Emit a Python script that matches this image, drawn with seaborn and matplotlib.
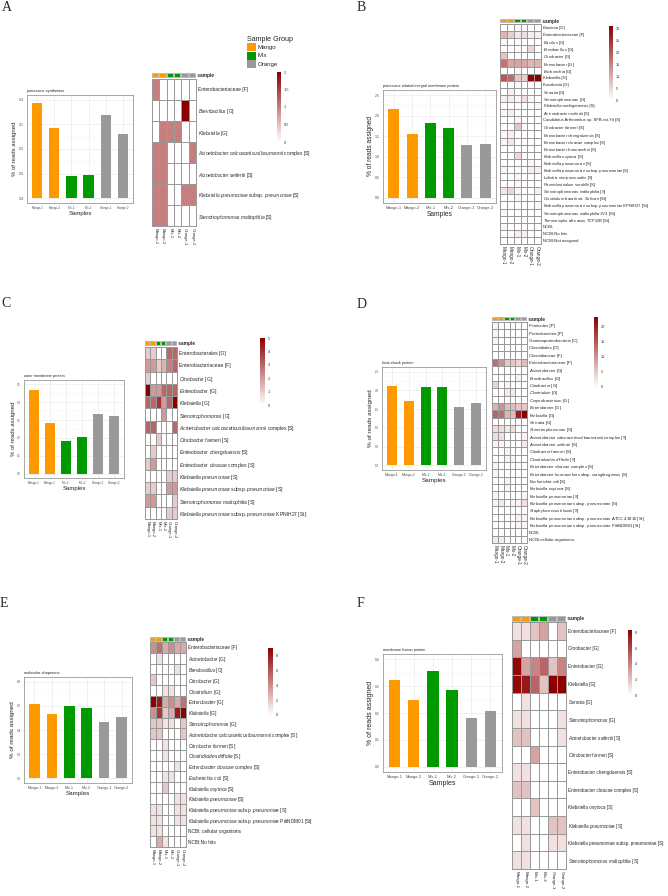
import matplotlib
matplotlib.use('Agg')
from matplotlib import pyplot as plt
from matplotlib.colors import LinearSegmentedColormap, ListedColormap
from matplotlib.patches import Rectangle
import numpy as np
import pandas as pd
import seaborn as sns

sns.set_style('white')
plt.rcParams['font.family'] = ['Liberation Sans', 'DejaVu Sans']
plt.rcParams['mathtext.fontset'] = 'custom'
plt.rcParams['mathtext.rm'] = 'Liberation Sans'
plt.rcParams['mathtext.it'] = 'Liberation Sans:italic'

##sample info shared by all panels
samples = ['Mango-1', 'Mango-2', 'Mix-1', 'Mix-2', 'Orange-1', 'Orange-2']
groups = ['Mango', 'Mango', 'Mix', 'Mix', 'Orange', 'Orange']
group_names = ['Mango', 'Mix', 'Orange']
group_colors = {'Mango': '#FF9900', 'Mix': '#009900', 'Orange': '#999999'}

##Panel A
a_title = 'putrescine synthetase'
a_bars = [0.193, 0.142, 0.045, 0.048, 0.170, 0.131]
a_rows = ['Enterobacteriaceae [F]', '*Brevibacillus* [G]', '*Klebsiella* [G]',
          '*Acinetobacter calcoaceticus/baumannii* complex [S]',
          '*Acinetobacter seifertii* [S]',
          '*Klebsiella pneumoniae* subsp. *pneumoniae* [S]',
          '*Stenotrophomonas maltophilia* [S]']
a_heat = [[1, 0, 0, 0, 0, 0],
          [0, 0, 0, 0, 2, 0],
          [0, 1, 1, 1, 0, 0],
          [1, 1, 0, 0, 0, 1],
          [1, 1, 0, 0, 0, 0],
          [1, 1, 0, 0, 1, 1],
          [1, 1, 0, 0, 0, 0]]

##Panel B
b_title = 'putrescine related integral membrane protein'
b_bars = [2.17, 1.56, 1.81, 1.69, 1.29, 1.31]
b_rows = ['Bacteria [D]', 'Enterobacteriaceae [F]', '*Bacillus* [G]', '*Brevibacillus* [G]',
          '*Citrobacter* [G]', '*Enterobacter* [G]', '*Escherichia* [G]', 'Klebsiella [G]',
          'Kosakonia [G]', '*Serratia* [G]', '*Stenotrophomonas* [G]',
          ' Klebsiella michiganensis [S]', '*Acinetobacter seifertii* [S]',
          'Candidatus Arthromitus sp. SFB-rat-Yit [S]', '*Citrobacter farmeri* [S]',
          '*Enterobacter chengduensis* [S]', '*Enterobacter cloacae* complex [S]',
          '*Enterobacter hormaechei* [S]', '*Klebsiella oxytoca* [S]',
          '*Klebsiella pneumoniae* [S]', '*Klebsiella pneumoniae* subsp. *pneumoniae* [S]',
          '*Leliottia nimipressuralis* [S]', '*Paeniclostridium sordellii* [S]',
          '*Stenotrophomonas maltophilia* [S]', '*Clostridium baratii* str. *Sullivan* [St]',
          '*Klebsiella pneumoniae* subsp. *pneumoniae* KPNIH27 [St]',
          '*Stenotrophomonas maltophilia* JV3 [St]', '*Thermosipho africanus* TCF52B [St]',
          'NCBI;', 'NCBI;No hits', 'NCBI;Not assigned']
b_heat = [[0, 0, 1, 0, 0, 0],
          [9, 6, 3, 4, 2, 2],
          [1, 0, 0, 0, 0, 0],
          [0, 0, 0, 0, 5, 0],
          [7, 0, 0, 0, 0, 0],
          [17, 11, 11, 11, 9, 9],
          [0, 0, 1, 0, 0, 0],
          [20, 18, 7, 6, 30, 31],
          [0, 0, 1, 0, 0, 0],
          [0, 2, 0, 0, 0, 0],
          [2, 2, 1, 4, 1, 0],
          [0, 0, 0, 0, 0, 1],
          [1, 2, 0, 0, 0, 0],
          [0, 0, 1, 0, 0, 0],
          [0, 0, 7, 0, 0, 0],
          [1, 2, 0, 0, 0, 0],
          [1, 3, 0, 0, 0, 0],
          [0, 0, 0, 0, 0, 0],
          [0, 0, 5, 0, 0, 0],
          [0, 0, 0, 0, 1, 0],
          [1, 0, 0, 0, 2, 2],
          [0, 0, 1, 0, 0, 0],
          [0, 0, 1, 0, 0, 0],
          [3, 5, 1, 0, 0, 2],
          [0, 0, 1, 0, 0, 0],
          [0, 0, 0, 0, 0, 1],
          [1, 0, 0, 0, 0, 0],
          [0, 0, 0, 0, 0, 0],
          [1, 0, 0, 0, 0, 0],
          [0, 0, 2, 2, 0, 0],
          [0, 0, 0, 0, 0, 0]]

##Panel C
c_title = 'outer membrane protein'
c_bars = [0.470, 0.286, 0.183, 0.205, 0.335, 0.322]
c_rows = ['Enterobacterales [O]', 'Enterobacteriaceae [F]', '*Citrobacter* [G]',
          '*Enterobacter* [G]', '*Klebsiella* [G]', '*Stenotrophomonas* [G]',
          '*Acinetobacter calcoaceticus/baumannii* complex [S]', '*Citrobacter farmeri* [S]',
          '*Enterobacter chengduensis* [S]', '*Enterobacter cloacae* complex [S]',
          '*Klebsiella pneumoniae* [S]', '*Klebsiella pneumoniae* subsp. *pneumoniae* [S]',
          '*Stenotrophomonas maltophilia* [S]',
          '*Klebsiella pneumoniae* subsp. *pneumoniae* KPNIH27 [St]']
c_heat = [[1, 1, 0, 0, 3, 3],
          [2, 2, 1, 1.5, 2.5, 3],
          [1, 0, 0, 0, 0, 0],
          [5, 2, 2, 3, 3, 3],
          [3, 3, 4, 2, 3, 5],
          [0, 0, 0, 2, 0, 0],
          [3, 3, 0, 0, 0, 3],
          [0, 0, 1, 0, 0, 0],
          [0, 1, 0, 0, 0, 0],
          [1, 2, 0, 0, 0, 0],
          [0, 0, 0, 0, 1, 1],
          [1, 1, 0, 0, 2, 2],
          [2, 2, 0, 0, 0, 1],
          [0, 0, 0, 0, 1, 1]]

##Panel D
d_title = 'heat-shock protein'
d_bars = [2.12, 1.73, 2.08, 2.08, 1.55, 1.66]
d_rows = ['Firmicutes [P]', 'Proteobacteria [P]', 'Gammaproteobacteria [C]',
          'Clostridiales [O]', 'Clostridiaceae [F]', 'Enterobacteriaceae [F]',
          '*Acinetobacter* [G]', '*Brevibacillus* [G]', '*Citrobacter* [G]',
          '*Clostridium* [G]', '*Corynebacterium* [G]', '*Enterobacter* [G]',
          '*Klebsiella* [G]', '*Serratia* [G]', '*Stenotrophomonas* [G]',
          '*Acinetobacter calcoaceticus/baumannii* complex [S]',
          '*Acinetobacter seifertii* [S]', '*Citrobacter farmeri* [S]',
          '*Clostridioides difficile* [S]', '*Enterobacter cloacae* complex [S]',
          '*Enterobacter hormaechei* subsp. *xiangfangensis* [S]',
          '*Escherichia coli* [S]', '*Klebsiella oxytoca* [S]', '*Klebsiella pneumoniae* [S]',
          '*Klebsiella pneumoniae* subsp. *pneumoniae* [S]', '*Staphylococcus kloosii* [S]',
          '*Klebsiella pneumoniae* subsp. *pneumoniae* ATCC 43816 [St]',
          '*Klebsiella pneumoniae* subsp. *pneumoniae* PittNDM01 [St]',
          'NCBI;', 'NCBI;cellular organisms;']
d_heat = [[1, 0, 0, 0, 0, 0],
          [1, 0, 0, 0, 0, 0],
          [1, 0, 0, 0, 0, 0],
          [0, 0, 0, 0, 0, 0],
          [0, 0, 0, 0, 0, 0],
          [13, 10, 5, 5, 4, 6],
          [0, 0, 0, 0, 0, 0],
          [0, 0, 0, 0, 1, 0],
          [4, 0, 1, 0, 0, 0],
          [0, 0, 2, 2, 0, 0],
          [0, 0, 0, 0, 0, 0],
          [7, 10, 6, 6, 5, 5],
          [14, 13, 7, 6, 20, 23],
          [0, 0, 0, 0, 0, 0],
          [3, 3, 2, 3, 0, 0],
          [3, 3, 0, 0, 0, 1],
          [1, 1, 0, 0, 0, 2],
          [0, 0, 1, 0, 0, 0],
          [0, 0, 1, 1, 0, 0],
          [1, 0, 0, 0, 0, 0],
          [1, 0, 0, 0, 0, 0],
          [0, 0, 1, 0, 0, 0],
          [0, 0, 1, 0, 0, 0],
          [1, 0, 0, 0, 0, 1],
          [1, 2, 0, 1, 1, 3],
          [0, 0, 0, 0, 0, 0],
          [0, 0, 0, 0, 1, 1],
          [0, 0, 0, 0, 1, 1],
          [0, 0, 0, 0, 0, 0],
          [2, 2, 0, 0, 0, 0]]

##Panel E
e_title = 'molecular chaperone'
e_bars = [0.615, 0.535, 0.600, 0.585, 0.470, 0.510]
e_rows = ['Enterobacteriaceae [F]', '*Acinetobacter* [G]', '*Brevibacillus* [G]',
          '*Citrobacter* [G]', '*Clostridium* [G]', '*Enterobacter* [G]', '*Klebsiella* [G]',
          '*Stenotrophomonas* [G]', '*Acinetobacter calcoaceticus/baumannii* complex [S]',
          '*Citrobacter farmeri* [S]', '*Clostridioides difficile* [S]',
          '*Enterobacter cloacae* complex [S]', '*Escherichia coli* [S]',
          '*Klebsiella oxytoca* [S]', '*Klebsiella pneumoniae* [S]',
          '*Klebsiella pneumoniae* subsp. *pneumoniae* [S]',
          '*Klebsiella pneumoniae* subsp. *pneumoniae* PittNDM01 [St]',
          'NCBI; cellular organisms', 'NCBI;No hits']
e_heat = [[4, 5, 3, 4, 3, 3],
          [0, 1, 0, 0, 0, 0],
          [0, 0, 0, 0, 1, 0],
          [2, 0, 0, 0, 0, 0],
          [0, 0, 1, 1, 0, 0],
          [9, 8, 3, 4, 3, 5],
          [4, 7, 2, 3, 8, 9],
          [2, 2, 1, 1, 0, 2],
          [2, 2, 0, 0, 0, 2],
          [0, 0, 1, 0, 0, 0],
          [0, 0, 1, 0, 0, 0],
          [0, 0, 0, 0, 1, 0],
          [0, 0, 1, 1, 0, 0],
          [0, 0, 2, 0, 0, 0],
          [0, 0, 0, 0, 1, 1],
          [1, 1, 0, 0, 1, 1],
          [1, 1, 0, 0, 1, 1],
          [1, 1, 0, 0, 0, 0],
          [0, 3, 1, 0, 0, 0]]

##Panel F
f_title = 'membrane fusion protein'
f_bars = [0.323, 0.249, 0.356, 0.287, 0.181, 0.209]
f_rows = ['Enterobacteriaceae [F]', 'Citrobacter [G]', 'Enterobacter [G]', 'Klebsiella [G]',
          '*Serratia* [G]', '*Stenotrophomonas* [G]', '*Acinetobacter seifertii* [S]',
          '*Citrobacter farmeri* [S]', 'Enterobacter chengduensis [S]',
          'Enterobacter cloacae complex [S]', 'Klebsiella oxytoca [S]',
          'Klebsiella *pneumoniae* [S]', 'Klebsiella pneumoniae subsp. pneumoniae [S]',
          '*Stenotrophomonas maltophilia* [S]']
f_heat = [[1, 1, 2, 3, 0, 2],
          [3, 0, 0, 0, 0, 0],
          [8, 3, 4, 5, 2, 4],
          [8, 7.5, 5, 2, 8.3, 8.3],
          [0, 1, 0, 0, 0, 0],
          [1, 1, 0, 0, 0, 1],
          [2, 2, 0, 0, 0, 1],
          [0, 0, 3, 0, 0, 0],
          [1, 1, 0, 0, 0, 0],
          [2, 2, 0, 0, 0, 0],
          [0, 0, 2, 0, 0, 0],
          [1, 1, 0, 0, 2, 2],
          [0, 1, 0, 0, 1, 1],
          [1, 1, 0, 0, 0, 0]]

W, H = 668, 896
fig = plt.figure(figsize=(W / 100, H / 100), dpi=100)
heat_cmap = LinearSegmentedColormap.from_list('white_darkred', ['#FFFFFF', '#8B0000'])


def px_axes(x0, y0, x1, y1):
    return fig.add_axes([x0 / W, 1 - y1 / H, (x1 - x0) / W, (y1 - y0) / H])


def fmt(s):
    # *text* -> italic mathtext
    parts = s.split('*')
    out = ''
    for i, p in enumerate(parts):
        if i % 2 == 1:
            out += r'$\mathit{' + p.replace(' ', r'\ ') + '}$'
        else:
            out += p
    return out


def draw_bar(box, title, values, ylim, yticks, dec, tickfs, labfs):
    ax = px_axes(*box)
    df = pd.DataFrame({'sample': samples, 'value': values, 'group': groups})
    sns.barplot(data=df, x='sample', y='value', hue='group', palette=group_colors,
                dodge=False, width=0.6, legend=False, linewidth=0, saturation=1, ax=ax)
    ax.set_xlim(-0.6, 5.6)
    ax.set_ylim(*ylim)
    ax.set_yticks(yticks)
    ax.set_yticklabels([f'{t:.{dec}f}' for t in yticks])
    minor = [(a + b) / 2 for a, b in zip(yticks[:-1], yticks[1:])]
    ax.set_yticks(minor, minor=True)
    ax.grid(True, which='major', color='#EBEBEB', lw=0.5)
    ax.grid(True, which='minor', axis='y', color='#F3F3F3', lw=0.3)
    ax.set_axisbelow(True)
    for sp in ax.spines.values():
        sp.set_visible(True)
        sp.set_color('#9A9A9A')
        sp.set_linewidth(0.6)
    ax.tick_params(axis='both', which='major', labelsize=tickfs, length=1.2, width=0.3,
                   color='#555555', labelcolor='#4D4D4D', pad=1)
    ax.tick_params(axis='y', which='minor', length=0)
    ax.tick_params(axis='y', labelsize=tickfs * 0.85)
    ax.set_title(title, loc='left', fontsize=2.8, pad=2)
    ax.set_xlabel('Samples', fontsize=labfs, labelpad=0.5)
    ax.set_ylabel('% of reads assigned', fontsize=labfs, labelpad=1)
    return ax


def draw_heat(heat_box, annot_box, cbar_box, rows, mat, cticks, rowfs, colfs):
    ax = px_axes(*heat_box)
    cax = px_axes(*cbar_box)
    aax = px_axes(*annot_box)
    df = pd.DataFrame(mat, index=[fmt(r) for r in rows], columns=samples)
    sns.heatmap(df, ax=ax, cmap=heat_cmap, vmin=0, vmax=df.values.max(), cbar_ax=cax,
                linewidths=0.4, linecolor='#999999', xticklabels=True, yticklabels=True)
    ax.collections[0].set_clip_on(False)
    ax.yaxis.tick_right()
    ax.tick_params(axis='both', length=0, pad=1.5)
    ax.set_yticklabels(ax.get_yticklabels(), rotation=0, fontsize=rowfs, ha='left')
    ax.set_xticklabels(samples, rotation=270, fontsize=colfs, ha='center', va='top')
    ax.set_xlabel('')
    ax.set_ylabel('')
    cbar = ax.collections[0].colorbar
    cbar.outline.set_visible(False)
    cbar.set_ticks(cticks)
    cbar.set_ticklabels([f'{t:g}' for t in cticks])
    cax.tick_params(length=0, labelsize=2.8, pad=2, labelcolor='#333333')
    codes = [[group_names.index(g) for g in groups]]
    sns.heatmap(np.array(codes), ax=aax, cmap=ListedColormap([group_colors[g] for g in group_names]),
                vmin=-0.5, vmax=2.5, cbar=False, linewidths=0.3, linecolor='#BBBBBB',
                xticklabels=False, yticklabels=False)
    aax.text(1.0, 0.5, ' sample', transform=aax.transAxes, fontsize=3.4,
             fontweight='bold', va='center', ha='left')
    return ax


panels = [
    dict(letter='A', lpos=(2, 1), title=a_title, bars=a_bars, rows=a_rows, heat=a_heat,
         bar=(27, 95, 133, 203), ylim=(-0.01, 0.21), yticks=[0, 0.05, 0.10, 0.15, 0.20], dec=2,
         tickfs=2.2, labfs=4.3, hbox=(152, 79, 196, 226), abox=(152, 73, 196, 78),
         cbox=(277, 72, 281, 142), cticks=[0, 0.5, 1, 1.5, 2], rowfs=3.5, colfs=3.0),
    dict(letter='B', lpos=(357, 1), title=b_title, bars=b_bars, rows=b_rows, heat=b_heat,
         bar=(383, 90, 496, 203), ylim=(-0.125, 2.625), yticks=[0, 0.5, 1.0, 1.5, 2.0, 2.5], dec=1,
         tickfs=3.0, labfs=4.8, hbox=(500, 24, 541, 244), abox=(500, 19, 541, 23.5),
         cbox=(609, 26, 613, 100), cticks=[0, 5, 10, 15, 20, 25, 30], rowfs=3.0, colfs=3.3),
    dict(letter='C', lpos=(1, 297), title=c_title, bars=c_bars, rows=c_rows, heat=c_heat,
         bar=(24, 380, 124, 478), ylim=(-0.025, 0.525), yticks=[0, 0.1, 0.2, 0.3, 0.4, 0.5], dec=1,
         tickfs=2.2, labfs=4.3, hbox=(145, 347, 177, 519), abox=(145, 341, 177, 346),
         cbox=(260, 338, 265, 405), cticks=[0, 1, 2, 3, 4, 5], rowfs=3.6, colfs=3.0),
    dict(letter='D', lpos=(357, 298), title=d_title, bars=d_bars, rows=d_rows, heat=d_heat,
         bar=(382, 367, 486, 470), ylim=(-0.125, 2.625), yticks=[0, 0.5, 1.0, 1.5, 2.0, 2.5], dec=1,
         tickfs=2.5, labfs=4.6, hbox=(492, 322, 527, 543), abox=(492, 317, 527, 321.5),
         cbox=(594, 317, 598, 387), cticks=[0, 5, 10, 15, 20], rowfs=3.1, colfs=3.3),
    dict(letter='E', lpos=(0, 597), title=e_title, bars=e_bars, rows=e_rows, heat=e_heat,
         bar=(24, 677, 132, 783), ylim=(-0.04, 0.84), yticks=[0, 0.2, 0.4, 0.6, 0.8], dec=1,
         tickfs=2.6, labfs=4.5, hbox=(150, 642, 186, 847), abox=(150, 637, 186, 641.5),
         cbox=(268, 648, 273, 715), cticks=[0, 2, 4, 6, 8], rowfs=3.4, colfs=3.0),
    dict(letter='F', lpos=(357, 597), title=f_title, bars=f_bars, rows=f_rows, heat=f_heat,
         bar=(383, 654, 502, 772), ylim=(-0.02, 0.42), yticks=[0, 0.1, 0.2, 0.3, 0.4], dec=1,
         tickfs=2.9, labfs=5.0, hbox=(512, 622, 566, 869), abox=(512, 616, 566, 621.5),
         cbox=(628, 630, 632, 695), cticks=[0, 2, 4, 6, 8], rowfs=3.3, colfs=3.2),
]

for p in panels:
    draw_bar(p['bar'], p['title'], p['bars'], p['ylim'], p['yticks'], p['dec'],
             p['tickfs'], p['labfs'])
    draw_heat(p['hbox'], p['abox'], p['cbox'], p['rows'], p['heat'], p['cticks'],
              p['rowfs'], p['colfs'])
    fig.text(p['lpos'][0] / W, 1 - p['lpos'][1] / H, p['letter'], fontsize=10,
             family='Liberation Serif', va='top', ha='left')

##Sample Group legend (panel A only)
lax = px_axes(245, 33, 300, 72)
lax.set_xlim(245, 300)
lax.set_ylim(72, 33)
lax.axis('off')
lax.text(247, 39, 'Sample Group', fontsize=5.1, va='center', ha='left')
for i, g in enumerate(group_names):
    y0 = 43 + i * 8.7
    lax.add_patch(Rectangle((247, y0), 9, 8, color=group_colors[g], lw=0))
    lax.text(258, y0 + 4, g, fontsize=4.4, va='center', ha='left')

plt.savefig('out.png', dpi=100)
